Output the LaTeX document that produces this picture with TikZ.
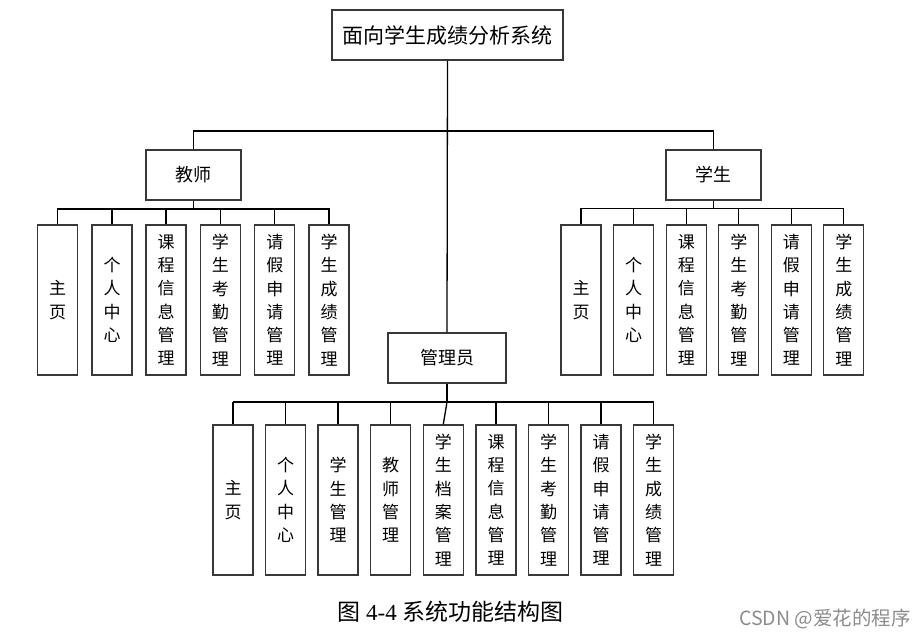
\documentclass[tikz,border=0pt]{standalone}
\usepackage{fontspec}
\setmainfont{Liberation Serif}
\newfontfamily\cjk{Noto Sans CJK SC}
\usetikzlibrary{calc}
\tikzset{
  box/.style={draw=black!78, line width=1.3pt, fill=white, inner sep=0pt, font=\cjk},
  topbox/.style={box, minimum width=231pt, minimum height=50pt, font=\cjk\fontsize{21}{24}\selectfont},
  midbox/.style={box, minimum width=95pt, minimum height=50pt, font=\cjk\fontsize{18}{22}\selectfont},
  leaf/.style={box, minimum width=40pt, minimum height=150pt, align=center, font=\cjk\fontsize{17}{23.3}\selectfont},
  conn/.style={draw=black, line width=1.3pt},
  thick conn/.style={draw=black, line width=2.1pt},
}
\begin{document}
\begin{tikzpicture}[x=1pt,y=-1pt]
\useasboundingbox (0,0) rectangle (924,637);
\fill[white] (0,0) rectangle (924,637);

% main nodes
\node[topbox] (top) at (447.5,35) {面向学生成绩分析系统};
\node[midbox] (t) at (193.5,175) {教师};
\node[midbox] (s) at (713.5,175) {学生};
\node[midbox, minimum width=118pt] (a) at (447,358) {管理员};

% bus coordinates
\coordinate (mbus) at (447,131);
\coordinate (tbus) at (193.5,209);
\coordinate (sbus) at (713.5,208.5);
\coordinate (abus) at (447,402);

% teacher leaves
\node[leaf] (t1) at (57.7,300) {主\\页};
\node[leaf] (t2) at (112,300) {个\\人\\中\\心};
\node[leaf] (t3) at (166,300) {课\\程\\信\\息\\管\\理};
\node[leaf] (t4) at (220.3,300) {学\\生\\考\\勤\\管\\理};
\node[leaf] (t5) at (274.8,300) {请\\假\\申\\请\\管\\理};
\node[leaf] (t6) at (329,300) {学\\生\\成\\绩\\管\\理};

% student leaves
\node[leaf] (s1) at (581,300) {主\\页};
\node[leaf] (s2) at (633.5,300) {个\\人\\中\\心};
\node[leaf] (s3) at (686.3,300) {课\\程\\信\\息\\管\\理};
\node[leaf] (s4) at (738.8,300) {学\\生\\考\\勤\\管\\理};
\node[leaf] (s5) at (791.3,300) {请\\假\\申\\请\\管\\理};
\node[leaf] (s6) at (843.8,300) {学\\生\\成\\绩\\管\\理};

% admin leaves
\node[leaf] (a1) at (233,500) {主\\页};
\node[leaf] (a2) at (285.5,500) {个\\人\\中\\心};
\node[leaf] (a3) at (338,500) {学\\生\\管\\理};
\node[leaf] (a4) at (390.7,500) {教\\师\\管\\理};
\node[leaf] (a5) at (443.3,500) {学\\生\\档\\案\\管\\理};
\node[leaf] (a6) at (496,500) {课\\程\\信\\息\\管\\理};
\node[leaf] (a7) at (548.5,500) {学\\生\\考\\勤\\管\\理};
\node[leaf] (a8) at (601,500) {请\\假\\申\\请\\管\\理};
\node[leaf] (a9) at (653.5,500) {学\\生\\成\\绩\\管\\理};

% top level connectors
\draw[conn] (top.south) -- (a.north);
\draw[conn] (t.north) |- (mbus) -| (s.north);

% teacher connectors
\draw[conn] (t.south) -- (tbus);
\draw[conn] (t1.north) |- (tbus) -| (t6.north);
\foreach \i in {2,3,4,5} \draw[conn] (t\i.north) -- (t\i.north |- tbus);

% student connectors
\draw[conn] (s.south) -- (sbus);
\draw[conn] (s1.north) |- (sbus) -| (s6.north);
\foreach \i in {2,3,4,5} \draw[conn] (s\i.north) -- (s\i.north |- sbus);

% admin connectors
\draw[thick conn] (a.south) -- (abus);
\draw[thick conn] (a1.north |- abus) -- (a9.north |- abus);
\foreach \i in {1,2,3,4,6,7,8,9} \draw[conn] (a\i.north) -- (a\i.north |- abus);
\draw[conn] (abus) -- (a5.north);

% caption and watermark
\node[inner sep=0pt, font=\fontsize{23}{26}\selectfont] (cap) at (450.5,611.5) {{\cjk 图}\hspace{6pt}4-4\hspace{6pt}{\cjk 系统功能结构图}};
\node[inner sep=0pt, text=black!45, font=\cjk\fontsize{19.5}{22}\selectfont] (wm) at (825,619) {CSDN @爱花的程序};
\end{tikzpicture}
\end{document}
